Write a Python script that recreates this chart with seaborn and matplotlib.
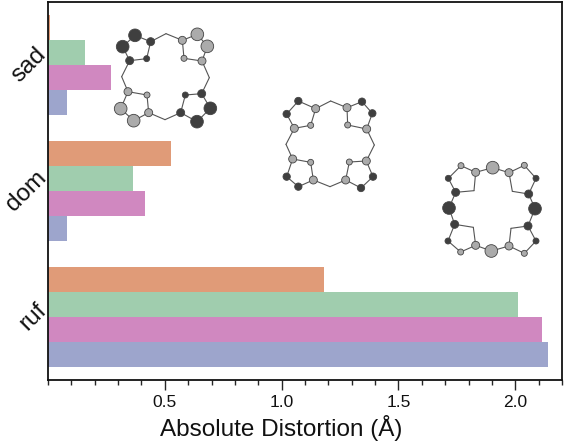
import pandas as pd
import seaborn as sns
import matplotlib.pyplot as plt
from matplotlib.ticker import MultipleLocator

sns.set_style("ticks")
plt.rcParams['font.family'] = ['Liberation Sans', 'DejaVu Sans']

categories = ['sad', 'dom', 'ruf']
series_names = ['a', 'b', 'c', 'd']
series_a = [0.009, 0.525, 1.183]
series_b = [0.16, 0.365, 2.01]
series_c = [0.268, 0.414, 2.113]
series_d = [0.082, 0.082, 2.142]
colours = ['#E09B78', '#A0CDAE', '#D088C0', '#9DA5CC']

DARK = '#3f3f3f'
GREY = '#ababab'

# molecule sketches: (x, y, radius, colour), pixels of the 3x crops
# each ring is alpha, beta, beta, alpha, N. meso atoms join the rings
sad_origin = (90, 10)
sad_rings = [
    [(182, 95, 12, DARK), (135, 76, 19, DARK), (98, 110, 19, DARK), (119, 152, 12, DARK), (170, 146, 9, DARK)],
    [(336, 153, 12, GREY), (352, 109, 19, GREY), (322, 73, 19, GREY), (277, 91, 12, GREY), (282, 145, 9, GREY)],
    [(272, 308, 12, DARK), (321, 335, 19, DARK), (361, 295, 19, DARK), (335, 251, 12, DARK), (286, 255, 9, DARK)],
    [(114, 245, 12, GREY), (92, 296, 19, GREY), (131, 332, 19, GREY), (176, 308, 12, GREY), (171, 255, 9, GREY)],
]
sad_meso = [(228, 71, 0, GREY), (358, 203, 0, GREY), (225, 329, 0, GREY), (95, 200, 0, GREY)]

dom_origin = (270, 85)
dom_rings = [
    [(137, 71, 12, GREY), (85, 48, 11, DARK), (50, 87, 11, DARK), (73, 130, 12, GREY), (122, 121, 9, GREY)],
    [(290, 132, 12, GREY), (307, 85, 11, DARK), (276, 50, 11, DARK), (231, 68, 12, GREY), (233, 120, 9, GREY)],
    [(227, 285, 12, GREY), (273, 309, 11, DARK), (309, 275, 11, DARK), (289, 228, 12, GREY), (238, 231, 9, GREY)],
    [(68, 222, 12, GREY), (50, 275, 11, DARK), (85, 305, 11, DARK), (130, 285, 12, GREY), (122, 232, 9, GREY)],
]
dom_meso = [(182, 48, 0, GREY), (313, 180, 0, GREY), (180, 305, 0, GREY), (48, 178, 0, GREY)]

ruf_origin = (430, 150)
ruf_rings = [
    [(137, 67, 12, GREY), (93, 47, 9, GREY), (55, 85, 9, DARK), (77, 127, 12, DARK), (132, 122, 0, GREY)],
    [(296, 132, 12, DARK), (318, 85, 9, DARK), (283, 46, 9, GREY), (237, 68, 12, GREY), (247, 124, 0, GREY)],
    [(237, 288, 12, GREY), (283, 310, 9, GREY), (318, 273, 9, DARK), (294, 228, 12, DARK), (243, 235, 0, GREY)],
    [(74, 223, 12, DARK), (54, 273, 9, DARK), (92, 306, 9, GREY), (137, 286, 12, GREY), (130, 232, 0, GREY)],
]
ruf_meso = [(188, 53, 19, GREY), (315, 176, 19, DARK), (184, 303, 19, GREY), (57, 174, 19, DARK)]


def draw_molecule(ax, origin, rings, meso):
    ox, oy = origin
    atoms = []
    segs = []
    for i, ring in enumerate(rings):
        atoms += ring
        loop = ring + [ring[0]]
        segs += list(zip(loop[:-1], loop[1:]))
        # first alpha of this ring -> meso -> last alpha of the next one
        segs.append((ring[0], meso[i]))
        segs.append((meso[i], rings[(i + 1) % 4][3]))
    atoms += meso
    for p, q in segs:
        ax.plot([ox + p[0] / 3, ox + q[0] / 3], [oy + p[1] / 3, oy + q[1] / 3],
                color='#555555', lw=0.8, zorder=1)
    for x, y, r, c in atoms:
        if r == 0:
            continue
        ax.add_patch(plt.Circle((ox + x / 3, oy + y / 3), r / 3, facecolor=c,
                                edgecolor='#444444', lw=0.6, zorder=2))


df = pd.DataFrame({
    'category': categories * 4,
    'series': [s for s in series_names for _ in categories],
    'value': series_a + series_b + series_c + series_d,
})

fig = plt.figure(figsize=(5.64, 4.45), dpi=100)
ax = fig.add_axes([48 / 564, 1 - 380 / 445, (562 - 48) / 564, (380 - 2) / 445])
sns.barplot(data=df, y='category', x='value', hue='series', palette=colours,
            saturation=1, width=0.8, legend=False, ax=ax, order=categories, linewidth=0)
ax.set_xlim(0, 2.2)
ax.set_ylim(2.5, -0.5)
ax.set_ylabel('')
ax.set_xlabel('Absolute Distortion (Å)', fontsize=17.5, color='#111111')
ax.xaxis.set_label_coords((281 - 48) / (562 - 48), -(428 - 380) / 378, transform=ax.transAxes)
ax.xaxis.label.set_va('center')
ax.xaxis.set_major_locator(MultipleLocator(0.5))
ax.xaxis.set_minor_locator(MultipleLocator(0.1))
ax.tick_params(axis='x', which='major', labelsize=12.5, length=7, width=1, pad=4, labelcolor='#111111')
ax.tick_params(axis='x', which='minor', length=3.5, width=1)
ax.tick_params(axis='y', left=False, length=0, labelsize=17.5, pad=-2, labelcolor='#111111')
ax.set_xticks([0.5, 1.0, 1.5, 2.0])
ax.set_xticklabels(['0.5', '1.0', '1.5', '2.0'])
for lab in ax.get_yticklabels():
    lab.set_rotation(45)
    lab.set_va('center')
for s in ax.spines.values():
    s.set_visible(True)
    s.set_linewidth(1.3)
    s.set_color('#111111')

overlay = fig.add_axes([0, 0, 1, 1], facecolor='none')
overlay.set_xlim(0, 564)
overlay.set_ylim(445, 0)
overlay.axis('off')
draw_molecule(overlay, sad_origin, sad_rings, sad_meso)
draw_molecule(overlay, dom_origin, dom_rings, dom_meso)
draw_molecule(overlay, ruf_origin, ruf_rings, ruf_meso)

fig.savefig('out.png', dpi=100)
